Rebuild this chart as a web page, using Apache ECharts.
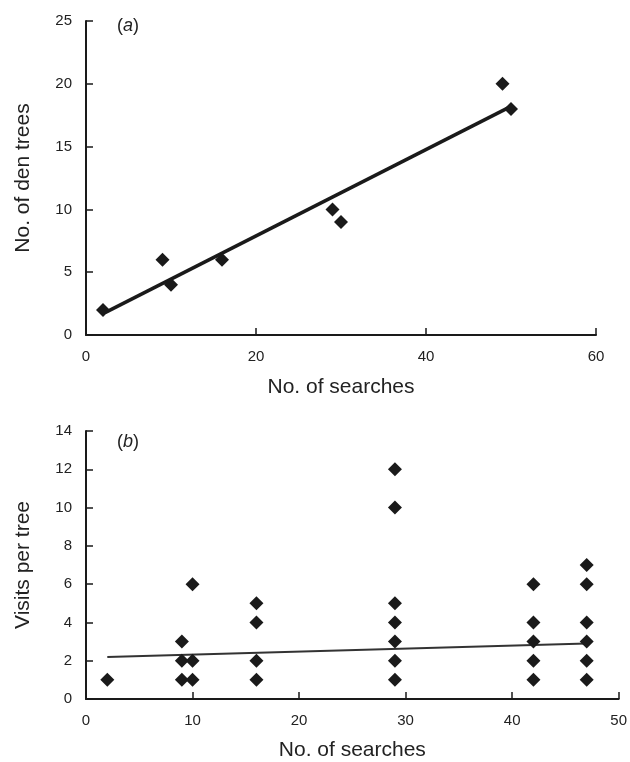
<!DOCTYPE html>
<html>
<head>
<meta charset="utf-8">
<script src="https://cdn.jsdelivr.net/npm/echarts@6/dist/echarts.min.js"></script>
<style>
  html, body { margin: 0; padding: 0; background: #fff; }
  #chart { width: 630px; height: 762px; }
</style>
</head>
<body>
<div id="chart"></div>
<script>
// panel (a): den trees vs searches
const denPoints = [[2, 2], [9, 6], [10, 4], [16, 6], [29, 10], [30, 9], [49, 20], [50, 18]]
const denFit = [[2.3, 1.8], [50, 18.2]]

// panel (b): visits per tree vs searches
const visitSearches = [2, 9, 10, 16, 29, 42, 47]
const visitValues = [
  [1],
  [1, 2, 3],
  [1, 2, 6],
  [1, 2, 4, 5],
  [1, 2, 3, 4, 5, 10, 12],
  [1, 2, 3, 4, 6],
  [1, 2, 3, 4, 6, 7]
]
const visitFit = [[2, 2.2], [47, 2.9]]

const visitPoints = []
visitSearches.forEach((s, i) => {
  visitValues[i].forEach(v => visitPoints.push([s, v]))
})

const font = 'Liberation Sans, Arial, sans-serif'
const ink = '#1a1a1a'

function axisStyle() {
  return {
    axisLine: { show: true, lineStyle: { color: ink, width: 2 } },
    axisTick: { show: true, inside: true, length: 7, lineStyle: { color: ink, width: 1.5 } },
    axisLabel: { color: '#222', fontSize: 15, fontFamily: font, margin: 14 },
    splitLine: { show: false },
    nameTextStyle: { color: '#222', fontSize: 21, fontFamily: font }
  }
}

function panelTag(letter, top) {
  return {
    text: '{n|(}{i|' + letter + '}{n|)}',
    left: 112, top: top,
    textStyle: {
      fontWeight: 'normal',
      rich: {
        n: { fontSize: 18, fontFamily: font, fontWeight: 'normal', color: '#222' },
        i: { fontSize: 18, fontFamily: font, fontWeight: 'normal', fontStyle: 'italic', color: '#222' }
      }
    }
  }
}

const chart = echarts.init(document.getElementById('chart'))

chart.setOption({
  animation: false,
  backgroundColor: '#fff',
  title: [panelTag('a', 12), panelTag('b', 428)],
  grid: [
    { left: 86, top: 21, width: 510, height: 314 },
    { left: 86, top: 431, width: 539, height: 269 }
  ],
  xAxis: [
    Object.assign(axisStyle(), {
      gridIndex: 0, type: 'value', min: 0, max: 60, interval: 20,
      name: 'No. of searches', nameLocation: 'middle', nameGap: 42
    }),
    Object.assign(axisStyle(), {
      gridIndex: 1, type: 'value', min: 0, max: 50, interval: 10,
      name: 'No. of searches', nameLocation: 'middle', nameGap: 41
    })
  ],
  yAxis: [
    Object.assign(axisStyle(), {
      gridIndex: 0, type: 'value', min: 0, max: 25, interval: 5,
      name: 'No. of den trees', nameLocation: 'middle', nameGap: 52
    }),
    Object.assign(axisStyle(), {
      gridIndex: 1, type: 'value', min: 0, max: 14, interval: 2,
      name: 'Visits per tree', nameLocation: 'middle', nameGap: 52
    })
  ],
  series: [
    {
      type: 'line', xAxisIndex: 0, yAxisIndex: 0,
      data: denFit, symbol: 'none',
      lineStyle: { color: ink, width: 3.5 }, z: 2
    },
    {
      type: 'scatter', xAxisIndex: 0, yAxisIndex: 0,
      data: denPoints, symbol: 'diamond', symbolSize: 14,
      itemStyle: { color: ink, opacity: 1 }, z: 3
    },
    {
      type: 'line', xAxisIndex: 1, yAxisIndex: 1,
      data: visitFit, symbol: 'none',
      lineStyle: { color: '#333', width: 2 }, z: 2
    },
    {
      type: 'scatter', xAxisIndex: 1, yAxisIndex: 1,
      data: visitPoints, symbol: 'diamond', symbolSize: 14,
      itemStyle: { color: ink, opacity: 1 }, z: 3
    }
  ]
})
</script>
</body>
</html>
